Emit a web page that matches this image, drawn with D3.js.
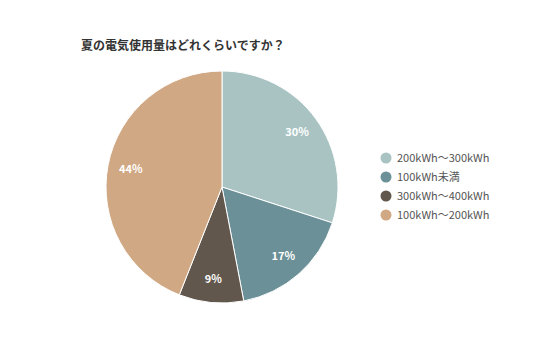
<!DOCTYPE html>
<html><head><meta charset="utf-8">
<script src="https://cdn.jsdelivr.net/npm/d3@7"></script>
<style>body{margin:0;background:#fff}</style>
</head><body>
<svg id="c" width="536" height="357"></svg>
<script>
const categories = ["200kWh～300kWh","100kWh未満","300kWh～400kWh","100kWh～200kWh"];
const values = [30,17,9,44];
const colors = ["#a9c3c3","#6b9097","#62574d","#d0a883"];
const title = "夏の電気使用量はどれくらいですか？";

const svg = d3.select("#c");
const font = "'Noto Sans CJK JP', 'Noto Sans', sans-serif";
svg.append("text").attr("x",81).attr("y",50).attr("font-family",font)
  .attr("font-size",12).attr("font-weight","bold").attr("fill","#333").text(title);

const cx=222, cy=187, R=116;
const pie = d3.pie().sort(null).value(d=>d)(values);
const arc = d3.arc().innerRadius(0).outerRadius(R);
const larc = d3.arc().innerRadius(R*0.8).outerRadius(R*0.8);
const g = svg.append("g").attr("transform",`translate(${cx},${cy})`);
g.selectAll("path").data(pie).join("path").attr("d",arc)
  .attr("fill",(d,i)=>colors[i]).attr("stroke","#fff").attr("stroke-width",1);
g.selectAll("text").data(pie).join("text")
  .attr("transform",d=>`translate(${larc.centroid(d)})`)
  .attr("text-anchor","middle").attr("dy","0.35em")
  .attr("font-family",font).attr("font-size",11).attr("font-weight","bold")
  .attr("fill","#fff").text(d=>d.value+"%");

const leg = svg.append("g");
categories.forEach((c,i)=>{
  const y = 158 + i*19;
  leg.append("circle").attr("cx",386).attr("cy",y).attr("r",5.5).attr("fill",colors[i]);
  leg.append("text").attr("x",397).attr("y",y).attr("dy","0.35em")
    .attr("font-family",font).attr("font-size",11).attr("fill","#555").text(c);
});
</script>
</body></html>
